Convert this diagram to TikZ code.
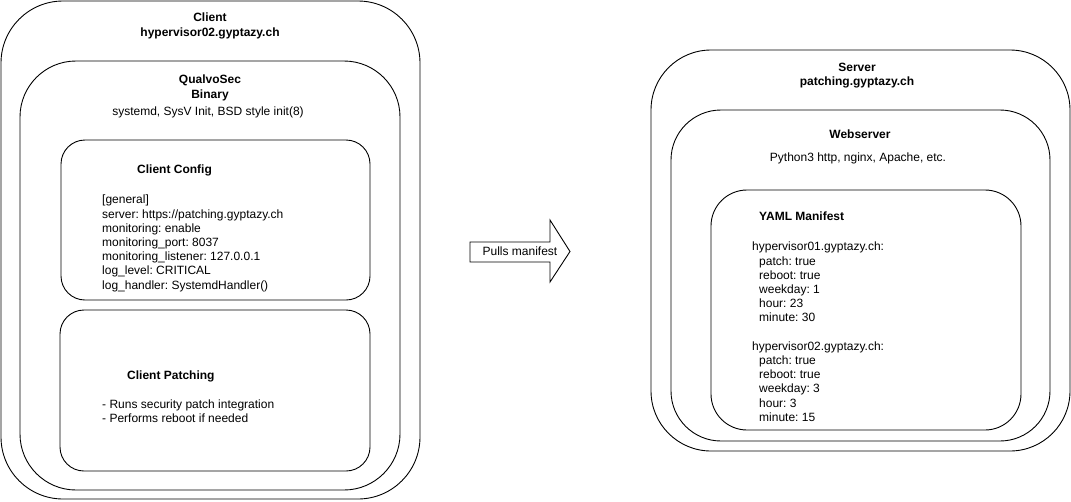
\documentclass[tikz,border=0pt]{standalone}
\usepackage{fontspec}
\setmainfont{Liberation Sans}
\frenchspacing
\begin{document}
\begin{tikzpicture}[x=1pt,y=-1pt,
  box/.style={draw=black,line width=0.9pt,inner sep=0pt,fill=none},
  txt/.style={inner sep=0pt,font=\fontsize{12}{14.2}\selectfont\frenchspacing},
  ttl/.style={txt,font=\fontsize{12}{14.4}\selectfont\bfseries,align=center,anchor=north},
  lst/.style={txt,align=left,anchor=north west}]
\useasboundingbox (0,0) rectangle (1071,501);
% client side
\node[box,rounded corners=62pt,minimum width=419pt,minimum height=498pt] (client) at (210.5,250) {};
\node[box,rounded corners=56pt,minimum width=380pt,minimum height=429pt] (binary) at (210,275.5) {};
\node[box,rounded corners=24pt,minimum width=309pt,minimum height=160pt] (config) at (215.5,220) {};
\node[box,rounded corners=24pt,minimum width=310pt,minimum height=161pt] (patching) at (215,390.5) {};
\node[ttl] (clienttitle) at (210,13) {Client\\hypervisor02.gyptazy.ch};
\node[ttl] (binarytitle) at (210,75) {QualvoSec\\Binary};
\node[txt,anchor=north] (inits) at (208,107) {systemd, SysV Init, BSD style init(8)};
\node[txt,font=\fontsize{12}{14.2}\selectfont\bfseries,anchor=north west] (configtitle) at (137,165) {Client Config};
\node[lst] (configtext) at (102,195) {[general]\\server: https://patching.gyptazy.ch\\monitoring: enable\\monitoring\_port: 8037\\monitoring\_listener: 127.0.0.1\\log\_level: CRITICAL\\log\_handler: SystemdHandler()};
\node[txt,font=\fontsize{12}{14.2}\selectfont\bfseries,anchor=north west] (patchtitle) at (127,371) {Client Patching};
\node[lst] (patchtext) at (102,399.5) {- Runs security patch integration\\- Performs reboot if needed};
% arrow
\coordinate (a1) at (470,242);
\coordinate (a2) at (550,242);
\coordinate (a3) at (550,220);
\coordinate (a4) at (570,251.5);
\coordinate (a5) at (550,282);
\coordinate (a6) at (550,262);
\coordinate (a7) at (470,262);
\draw[line width=0.9pt,line join=miter] (a1) -- (a2) -- (a3) -- (a4) -- (a5) -- (a6) -- (a7) -- cycle;
\node[txt] (pulls) at (520,251) {Pulls manifest};
% server side
\node[box,rounded corners=60pt,minimum width=419pt,minimum height=401pt] (server) at (860.5,250.5) {};
\node[box,rounded corners=50pt,minimum width=379pt,minimum height=331pt] (web) at (860.5,275.5) {};
\node[box,rounded corners=36pt,minimum width=310pt,minimum height=240pt] (yaml) at (866,310) {};
\node[ttl] (servertitle) at (857,63) {Server\\patching.gyptazy.ch};
\node[ttl] (webtitle) at (860,130) {Webserver};
\node[txt,anchor=north] (webtext) at (858,153) {Python3 http, nginx, Apache, etc.};
\node[txt,font=\fontsize{12}{14.2}\selectfont\bfseries,anchor=north west] (yamltitle) at (759,212) {YAML Manifest};
\node[lst] (yamltext) at (752,242) {hypervisor01.gyptazy.ch:\\\hspace*{7pt}patch: true\\\hspace*{7pt}reboot: true\\\hspace*{7pt}weekday: 1\\\hspace*{7pt}hour: 23\\\hspace*{7pt}minute: 30\\[14.2pt]hypervisor02.gyptazy.ch:\\\hspace*{7pt}patch: true\\\hspace*{7pt}reboot: true\\\hspace*{7pt}weekday: 3\\\hspace*{7pt}hour: 3\\\hspace*{7pt}minute: 15};
\end{tikzpicture}
\end{document}
